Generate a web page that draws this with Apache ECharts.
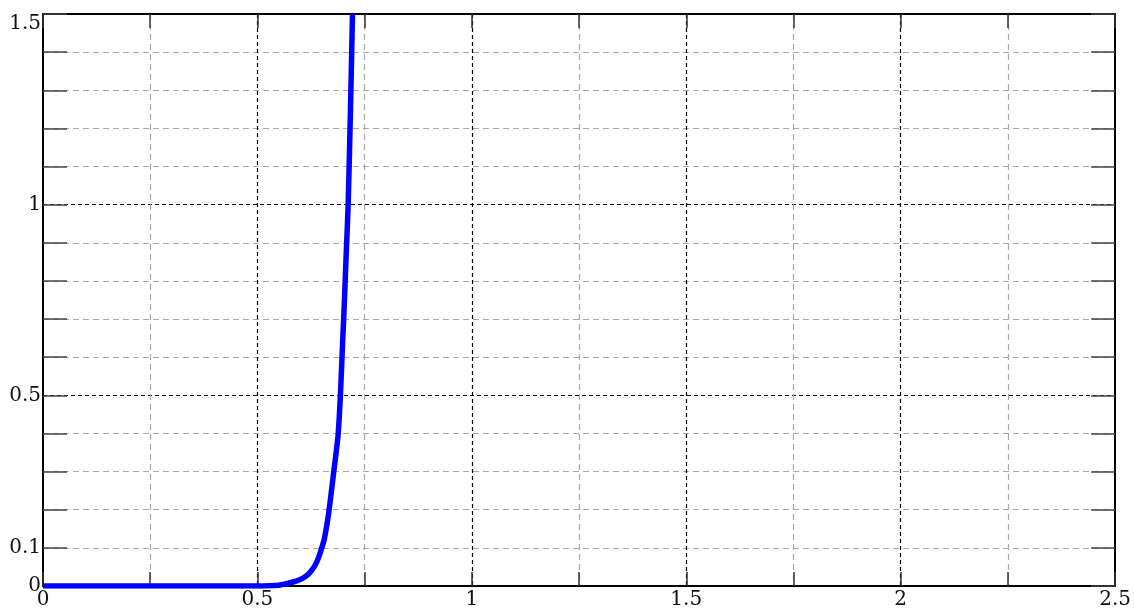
<!DOCTYPE html>
<html>
<head>
<meta charset="utf-8">
<script src="https://cdn.jsdelivr.net/npm/echarts@6/dist/echarts.min.js"></script>
<style>
  html, body { margin: 0; padding: 0; background: #fff; }
  #chart { width: 1134px; height: 610px; }
</style>
</head>
<body>
<div id="chart"></div>
<script>
// Data
const curveX = [0, 0.50, 0.55, 0.574, 0.590, 0.605, 0.618, 0.629, 0.637, 0.644, 0.650, 0.656, 0.666, 0.677, 0.688, 0.6935, 0.698, 0.703, 0.707, 0.7116, 0.717, 0.7217];
const curveY = [0, 0.00, 0.002, 0.008, 0.013, 0.020, 0.030, 0.045, 0.060, 0.079, 0.100, 0.123, 0.190, 0.290, 0.395, 0.500, 0.620, 0.751, 0.870, 1.000, 1.250, 1.500];
const yTickLabels = [0, 0.1, 0.5, 1, 1.5];
const xTickLabels = [0, 0.5, 1, 1.5, 2, 2.5];

const seriesData = curveX.map((x, i) => [x, curveY[i]]);

const FONT = 'DejaVu Serif';
const near = (v, arr) => arr.some(a => Math.abs(a - v) < 1e-6);
const T = 'rgba(0,0,0,0)';
const GRAY = '#a8a8a8';
const BLACK = '#000';

// split line colour lists, one entry per tick (index 0 = min)
const xMinorColors = [];
const xMajorColors = [];
for (let i = 0; i <= 10; i++) {
  const major = i % 2 === 0;
  xMinorColors.push(major ? T : GRAY);
  xMajorColors.push(major && i !== 0 && i !== 10 ? BLACK : T);
}
const yMinorColors = [];
const yMajorColors = [];
for (let i = 0; i <= 15; i++) {
  const major = i % 5 === 0;
  yMinorColors.push(major ? T : GRAY);
  yMajorColors.push(major && i !== 0 && i !== 15 ? BLACK : T);
}

const chart = echarts.init(document.getElementById('chart'), null, { renderer: 'canvas' });
chart.setOption({
  animation: false,
  backgroundColor: '#fff',
  grid: { left: 43, right: 16, top: 14, bottom: 23, containLabel: false },
  xAxis: [
    {
      type: 'value', position: 'bottom', min: 0, max: 2.5, interval: 0.25,
      axisLine: { show: true, onZero: false, lineStyle: { color: BLACK, width: 2 } },
      axisTick: { show: true, inside: true, length: 14, lineStyle: { color: '#333', width: 1.5 } },
      axisLabel: {
        show: true, margin: 4, color: '#111', fontFamily: FONT, fontSize: 20,
        formatter: v => near(v, xTickLabels) ? String(+v.toFixed(2)) : ''
      },
      splitLine: { show: true, lineStyle: { color: xMinorColors, width: 1.2, type: [6, 4] } }
    },
    {
      type: 'value', position: 'top', min: 0, max: 2.5, interval: 0.25,
      axisLine: { show: true, onZero: false, lineStyle: { color: BLACK, width: 2 } },
      axisTick: { show: true, inside: true, length: 14, lineStyle: { color: '#333', width: 1.5 } },
      axisLabel: { show: false },
      splitLine: { show: true, lineStyle: { color: xMajorColors, width: 1.2, type: [4, 3] } }
    }
  ],
  yAxis: [
    {
      type: 'value', position: 'left', min: 0, max: 1.5, interval: 0.1,
      axisLine: { show: true, onZero: false, lineStyle: { color: BLACK, width: 2 } },
      axisTick: { show: true, inside: true, length: 24, lineStyle: { color: '#444', width: 1.5 } },
      axisLabel: {
        show: true, margin: 2, color: '#111', fontFamily: FONT, fontSize: 20,
        verticalAlignMaxLabel: 'top',
        formatter: v => near(v, yTickLabels) ? String(+v.toFixed(2)) : ''
      },
      splitLine: { show: true, lineStyle: { color: yMinorColors, width: 1.2, type: [6, 4] } }
    },
    {
      type: 'value', position: 'right', min: 0, max: 1.5, interval: 0.1,
      axisLine: { show: true, onZero: false, lineStyle: { color: BLACK, width: 2 } },
      axisTick: { show: true, inside: true, length: 24, lineStyle: { color: '#444', width: 1.5 } },
      axisLabel: { show: false },
      splitLine: { show: true, lineStyle: { color: yMajorColors, width: 1.2, type: [4, 3] } }
    }
  ],
  series: [
    {
      type: 'line', xAxisIndex: 0, yAxisIndex: 0,
      data: seriesData, smooth: 0.25, showSymbol: false, symbol: 'none',
      lineStyle: { color: '#0000ff', width: 5.5 }, z: 5
    }
  ]
});
</script>
</body>
</html>
